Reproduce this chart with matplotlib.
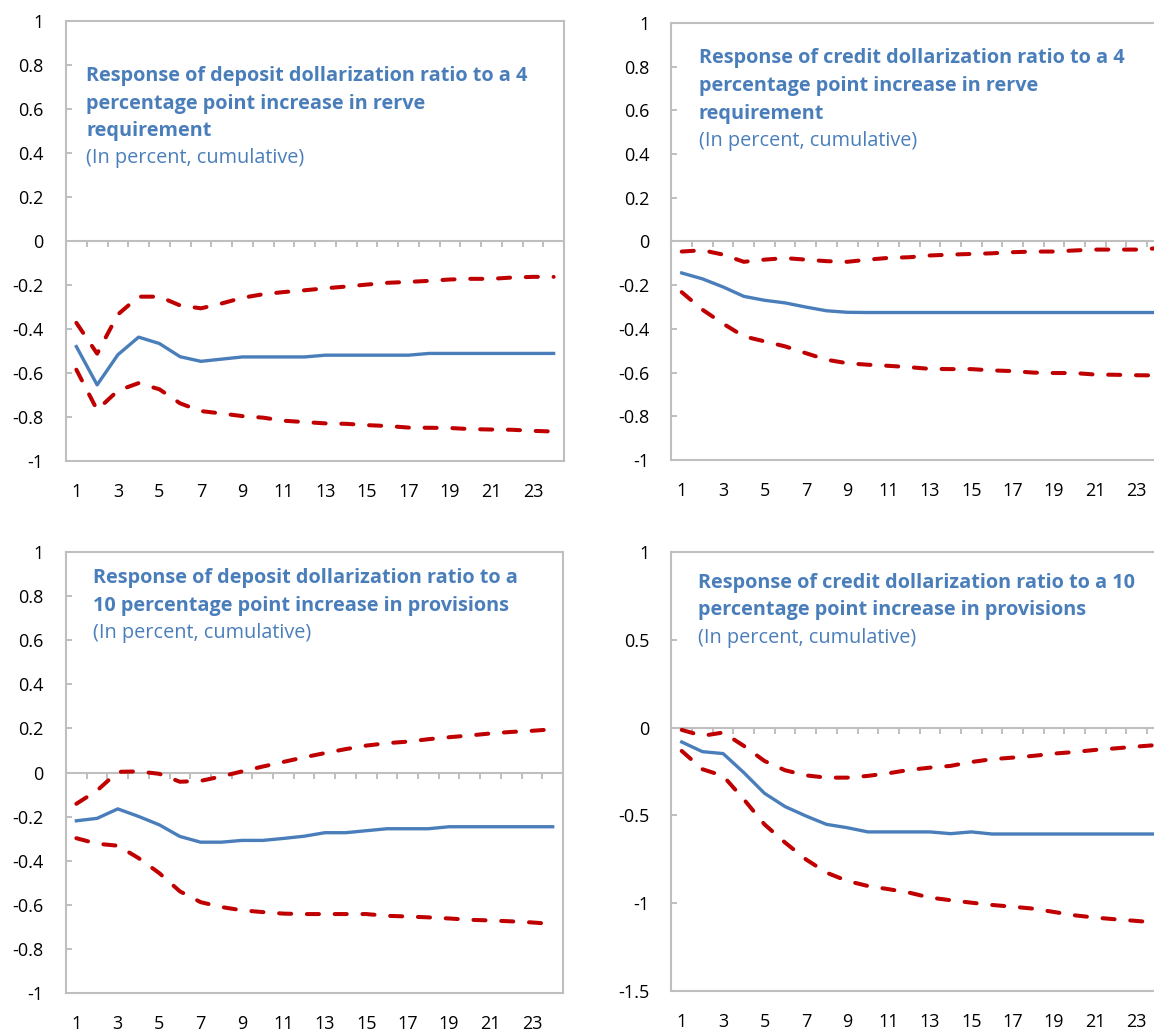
import matplotlib
matplotlib.use("Agg")
import matplotlib.pyplot as plt
import numpy as np

plt.rcParams['font.family'] = ['Open Sans', 'DejaVu Sans']

W, H = 1154, 1034
BLUE = '#4A7EBB'
RED = '#C00000'
GRAY = '#BFBFBF'

periods = np.arange(1, 25)
x_labels = periods[::2]

# deposit dollarization, 4 pp reserve requirement
dep_rr = [-0.48, -0.654, -0.517, -0.437, -0.466, -0.526, -0.547, -0.537, -0.527, -0.527,
          -0.527, -0.527, -0.519, -0.519, -0.519, -0.519, -0.519, -0.511, -0.511, -0.511,
          -0.511, -0.511, -0.511, -0.511]
dep_rr_hi = [-0.372, -0.512, -0.334, -0.253, -0.253, -0.293, -0.306, -0.284, -0.258, -0.242,
             -0.232, -0.224, -0.215, -0.207, -0.198, -0.19, -0.186, -0.181, -0.175, -0.172,
             -0.172, -0.166, -0.163, -0.163]
dep_rr_lo = [-0.585, -0.768, -0.68, -0.646, -0.674, -0.738, -0.773, -0.784, -0.796, -0.803,
             -0.817, -0.823, -0.829, -0.831, -0.837, -0.841, -0.848, -0.849, -0.85, -0.855,
             -0.857, -0.858, -0.863, -0.866]

# credit dollarization, 4 pp reserve requirement
cred_rr = [-0.144, -0.171, -0.208, -0.251, -0.269, -0.281, -0.3, -0.317, -0.324, -0.325,
           -0.325, -0.325, -0.325, -0.325, -0.325, -0.325, -0.325, -0.325, -0.325, -0.325,
           -0.325, -0.325, -0.325, -0.325]
cred_rr_hi = [-0.046, -0.04, -0.06, -0.093, -0.083, -0.076, -0.083, -0.09, -0.093, -0.083,
              -0.075, -0.072, -0.064, -0.06, -0.057, -0.054, -0.049, -0.046, -0.046, -0.041,
              -0.037, -0.037, -0.037, -0.031]
cred_rr_lo = [-0.232, -0.312, -0.376, -0.434, -0.457, -0.48, -0.511, -0.541, -0.557, -0.564,
              -0.569, -0.575, -0.583, -0.584, -0.584, -0.59, -0.593, -0.6, -0.602, -0.602,
              -0.609, -0.61, -0.612, -0.613]

# deposit dollarization, 10 pp provisions
dep_pr = [-0.219, -0.208, -0.165, -0.199, -0.237, -0.29, -0.316, -0.316, -0.308, -0.308,
          -0.299, -0.289, -0.273, -0.273, -0.264, -0.255, -0.255, -0.255, -0.246, -0.246,
          -0.246, -0.246, -0.246, -0.246]
dep_pr_hi = [-0.142, -0.082, 0.003, 0.005, -0.006, -0.042, -0.038, -0.018, 0.005, 0.027,
             0.048, 0.069, 0.088, 0.106, 0.122, 0.133, 0.14, 0.151, 0.16, 0.168,
             0.177, 0.184, 0.189, 0.196]
dep_pr_lo = [-0.298, -0.323, -0.332, -0.388, -0.456, -0.539, -0.588, -0.61, -0.625, -0.633,
             -0.64, -0.642, -0.642, -0.642, -0.642, -0.65, -0.653, -0.657, -0.662, -0.668,
             -0.671, -0.675, -0.68, -0.687]

# credit dollarization, 10 pp provisions
cred_pr = [-0.082, -0.137, -0.148, -0.256, -0.374, -0.45, -0.503, -0.551, -0.57, -0.594,
           -0.594, -0.594, -0.594, -0.604, -0.594, -0.606, -0.606, -0.606, -0.606, -0.606,
           -0.606, -0.606, -0.606, -0.606]
cred_pr_hi = [-0.013, -0.047, -0.028, -0.104, -0.19, -0.243, -0.272, -0.285, -0.285, -0.275,
              -0.26, -0.241, -0.228, -0.218, -0.196, -0.18, -0.171, -0.161, -0.148, -0.139,
              -0.127, -0.118, -0.108, -0.099]
cred_pr_lo = [-0.133, -0.237, -0.275, -0.408, -0.551, -0.655, -0.75, -0.826, -0.873, -0.902,
              -0.92, -0.94, -0.968, -0.983, -0.997, -1.01, -1.02, -1.031, -1.05, -1.069,
              -1.082, -1.092, -1.101, -1.111]

ticks_a = [-1, -0.8, -0.6, -0.4, -0.2, 0, 0.2, 0.4, 0.6, 0.8, 1]
ticks_b = [-1.5, -1, -0.5, 0, 0.5, 1]

titles = [
    ["Response of deposit dollarization ratio to a 4",
     "percentage point increase in rerve", "requirement"],
    ["Response of credit dollarization ratio to a 4",
     "percentage point increase in rerve", "requirement"],
    ["Response of deposit dollarization ratio to a",
     "10 percentage point increase in provisions"],
    ["Response of credit dollarization ratio to a 10",
     "percentage point increase in provisions"],
]
subtitle = "(In percent, cumulative)"

panels = [
    (dep_rr, dep_rr_hi, dep_rr_lo, ticks_a),
    (cred_rr, cred_rr_hi, cred_rr_lo, ticks_a),
    (dep_pr, dep_pr_hi, dep_pr_lo, ticks_a),
    (cred_pr, cred_pr_hi, cred_pr_lo, ticks_b),
]

# axes boxes in pixels: left, top, right, bottom
boxes = [(66, 21, 564, 461), (671.4, 23, 1167.7, 460),
         (66, 552, 563, 993), (671.4, 552, 1167.7, 991)]
# title anchor: x, baseline of the first line
title_pos = [(86, 81), (699, 63.5), (92.6, 583), (698, 588)]
line_h = 27.5
dash = (0, (3.0, 3.9))

fig = plt.figure(figsize=(W / 100, H / 100), dpi=100)

for (mid, hi, lo, yt), (l, t, r, b), lines, (tx, ty) in zip(panels, boxes, titles, title_pos):
    ax = fig.add_axes([l / W, 1 - b / H, (r - l) / W, (b - t) / H])
    ax.plot(periods, hi, color=RED, lw=2.9, ls=dash, dash_capstyle='round')
    ax.plot(periods, lo, color=RED, lw=2.9, ls=dash, dash_capstyle='round')
    ax.plot(periods, mid, color=BLUE, lw=2.4)

    ax.set_xlim(0.5, 24.5)
    ax.set_ylim(yt[0], yt[-1])
    ax.set_xticks(x_labels, labels=[str(v) for v in x_labels])
    ax.set_yticks(yt, labels=[f'{v:g}' for v in yt])
    ax.tick_params(axis='x', length=0, pad=16, labelsize=13)
    ax.tick_params(axis='y', direction='in', length=4.5, width=1.4, color=GRAY,
                   pad=16, labelsize=13)
    for s in ax.spines.values():
        s.set_color(GRAY)
        s.set_linewidth(1.5)

    # category axis crossing at zero, ticks between categories
    sec = ax.secondary_xaxis(0, transform=ax.transData)
    sec.set_xticks(np.arange(0.5, 25, 1.0))
    sec.tick_params(axis='x', direction='out', length=4.5, width=1.4, color=GRAY,
                    labelbottom=False, labeltop=False)
    for s in sec.spines.values():
        s.set_color(GRAY)
        s.set_linewidth(1.5)

    for i, txt in enumerate(lines):
        fig.text(tx / W, 1 - (ty + i * line_h) / H, txt, color=BLUE, fontsize=14.3,
                 fontweight='bold', va='baseline', ha='left')
    fig.text(tx / W, 1 - (ty + len(lines) * line_h) / H, subtitle, color=BLUE,
             fontsize=14.3, va='baseline', ha='left')

fig.savefig('out.png', dpi=100)
